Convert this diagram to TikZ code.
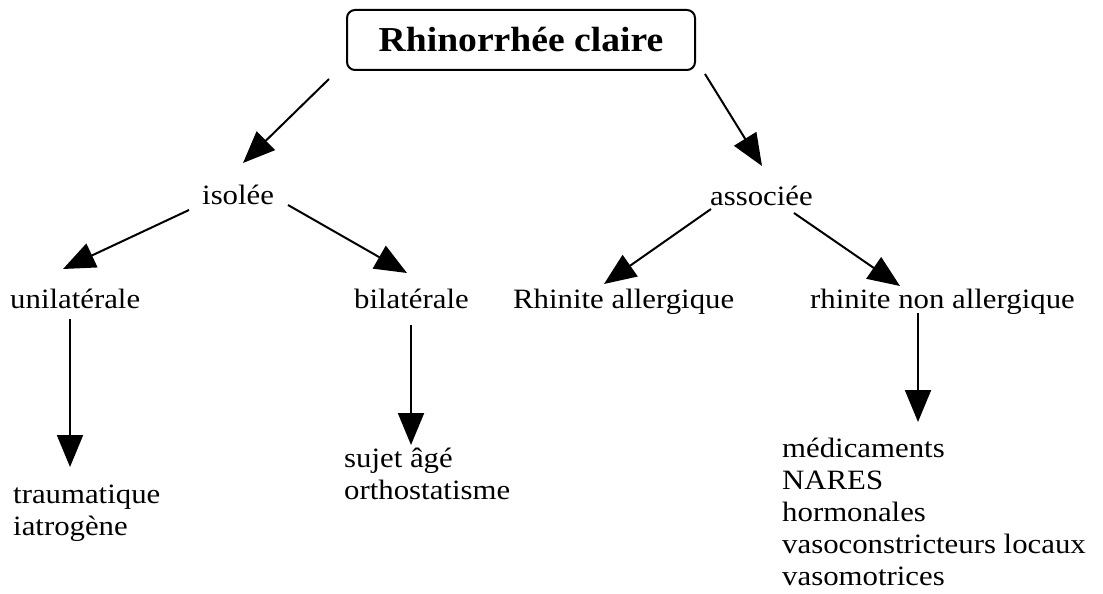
\documentclass[tikz,border=0pt]{standalone}
\usepackage{fontspec}
\setmainfont{Liberation Serif}[FakeStretch=1.1]
\newfontfamily\titlefont{Liberation Serif}[FakeStretch=1.075]
\usetikzlibrary{arrows.meta}
\begin{document}
\begin{tikzpicture}[x=1pt,y=-1pt,
  lbl/.style={inner sep=0pt, anchor=base west, font=\fontsize{28}{32}\selectfont},
  arr/.style={line width=2pt, -{Triangle[length=32pt,width=26pt]}},
  titlebox/.style={draw, line width=2pt, rounded corners=8pt,
    minimum width=348pt, minimum height=60pt, inner sep=0pt,
    font=\titlefont\fontsize{35}{40}\selectfont\bfseries}]
\useasboundingbox (0,0) rectangle (1103,594);
\node[titlebox] (root) at (521,40) {Rhinorrhée claire};
\node[lbl] (iso) at (202,204) {isolée};
\node[lbl] (asso) at (710,205) {associée};
\node[lbl] (uni) at (10,308) {unilatérale};
\node[lbl] (bi) at (354,308) {bilatérale};
\node[lbl] (ra) at (513,308) {Rhinite allergique};
\node[lbl] (rna) at (810,308) {rhinite non allergique};
\node[lbl] (trau) at (13,503) {\begin{tabular}[t]{@{}l@{}}traumatique\\iatrogène\end{tabular}};
\node[lbl] (suj) at (344,467) {\begin{tabular}[t]{@{}l@{}}sujet âgé\\orthostatisme\end{tabular}};
\node[lbl] (med) at (782,457) {\begin{tabular}[t]{@{}l@{}}médicaments\\NARES\\hormonales\\vasoconstricteurs locaux\\vasomotrices\end{tabular}};
% connectors
\draw[arr] ([shift={(-17,8)}]root.south west) -- ([shift={(41,-41)}]iso.base west);
\draw[arr] ([shift={(9,3)}]root.south east) -- ([shift={(52,-39)}]asso.base west);
\draw[arr] ([shift={(-13,6)}]iso.base west) -- ([shift={(53,-39)}]uni.base west);
\draw[arr] ([shift={(86,1)}]iso.base west) -- ([shift={(53,-35)}]bi.base west);
\draw[arr] ([shift={(1,4)}]asso.base west) -- ([shift={(91,-24)}]ra.base west);
\draw[arr] ([shift={(84,8)}]asso.base west) -- ([shift={(90,-22)}]rna.base west);
\draw[arr] ([shift={(60,11)}]uni.base west) -- ([shift={(57,-36)}]trau.base west);
\draw[arr] ([shift={(57,17)}]bi.base west) -- ([shift={(67,-22)}]suj.base west);
\draw[arr] ([shift={(108,5)}]rna.base west) -- ([shift={(136,-35)}]med.base west);
\end{tikzpicture}
\end{document}
